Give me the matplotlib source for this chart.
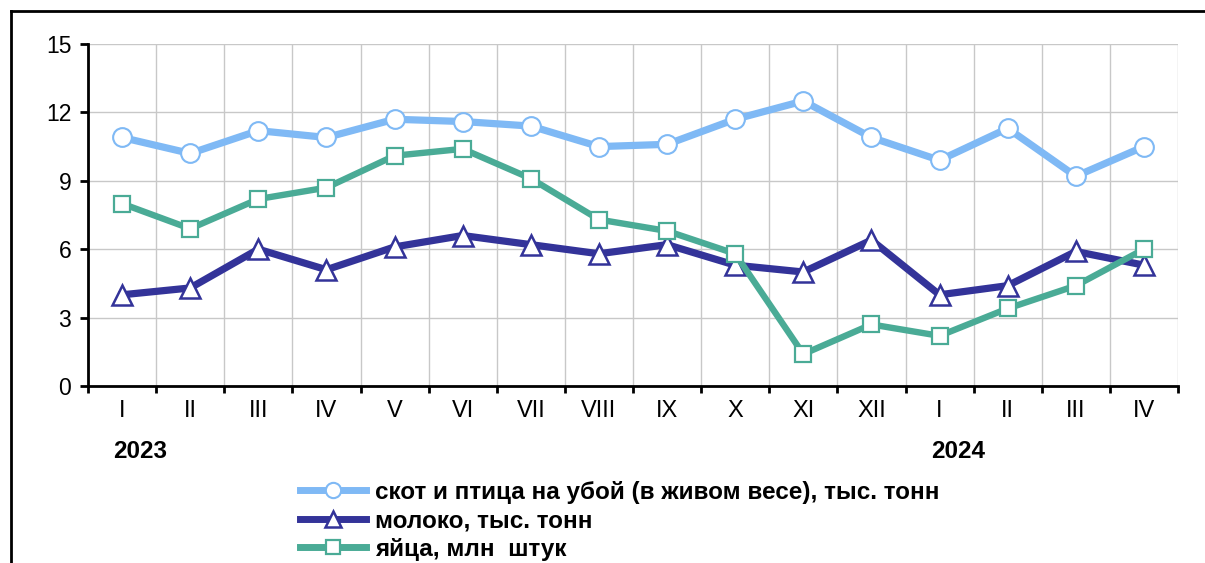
import numpy as np
import matplotlib.pyplot as plt
from matplotlib.lines import Line2D
from matplotlib.ticker import FixedLocator, NullFormatter, FixedFormatter
import matplotlib.transforms as mtransforms

plt.rcParams['font.family'] = ['Liberation Sans', 'DejaVu Sans']

# --- data ---
months = ["I", "II", "III", "IV", "V", "VI", "VII", "VIII", "IX", "X", "XI", "XII",
          "I", "II", "III", "IV"]
years = ["2023", "2024"]
year_start = [0, 12]

meat = [10.9, 10.2, 11.2, 10.9, 11.7, 11.6, 11.4, 10.5, 10.6, 11.7, 12.5, 10.9,
        9.9, 11.3, 9.2, 10.5]
milk = [4.0, 4.3, 6.0, 5.1, 6.1, 6.6, 6.2, 5.8, 6.2, 5.3, 5.0, 6.4,
        4.0, 4.4, 5.9, 5.3]
eggs = [8.0, 6.9, 8.2, 8.7, 10.1, 10.4, 9.1, 7.3, 6.8, 5.8, 1.4, 2.7,
        2.2, 3.4, 4.4, 6.0]

labels = ["скот и птица на убой (в живом весе), тыс. тонн",
          "молоко, тыс. тонн",
          "яйца, млн  штук"]

c_meat = "#7fb9f5"
c_milk = "#333399"
c_eggs = "#4aab96"

# --- figure ---
fig = plt.figure(figsize=(12.05, 5.63), dpi=100)
ax = fig.add_axes([88 / 1205, 1 - 386 / 563, 1090 / 1205, 342 / 563])

x = np.arange(len(months))

ax.plot(x, meat, color=c_meat, lw=5.2, marker="o", ms=13.5, mfc="white",
        mec=c_meat, mew=1.5, label=labels[0], zorder=3)
ax.plot(x, milk, color=c_milk, lw=5.2, marker="^", ms=14.5, mfc="white",
        mec=c_milk, mew=1.8, label=labels[1], zorder=3)
ax.plot(x, eggs, color=c_eggs, lw=4.6, marker="s", ms=11, mfc="white",
        mec=c_eggs, mew=1.6, label=labels[2], zorder=4)

ax.set_xlim(-0.5, len(months) - 0.5)
ax.set_ylim(0, 15)
ax.set_yticks(np.arange(0, 16, 3))

# boundaries as major ticks (grid), labels on minor ticks at centres
ax.xaxis.set_major_locator(FixedLocator(np.arange(-0.5, len(months), 1.0)))
ax.xaxis.set_major_formatter(NullFormatter())
ax.xaxis.set_minor_locator(FixedLocator(x))
ax.xaxis.set_minor_formatter(FixedFormatter(months))
ax.tick_params(axis="x", which="minor", length=0, labelsize=17, pad=10)
ax.tick_params(axis="x", which="major", length=5, width=2, direction="out")
ax.tick_params(axis="y", length=6, width=2, labelsize=16.5, pad=6)

ax.grid(True, which="major", color="#c8c8c8", lw=1)
ax.set_axisbelow(True)
for s in ["top", "right"]:
    ax.spines[s].set_visible(False)
for s in ["left", "bottom"]:
    ax.spines[s].set_linewidth(2)

trans = mtransforms.blended_transform_factory(ax.transData, fig.transFigure)
for yr, st in zip(years, year_start):
    ax.text(st + 0.27, 1 - 452 / 563, yr, transform=trans, ha="center",
            va="center", fontsize=17.5, fontweight="bold")

# outer frame (top and left)
fig.add_artist(Line2D([11 / 1205, 1], [1 - 11 / 563, 1 - 11 / 563],
                      transform=fig.transFigure, color="black", lw=2))
fig.add_artist(Line2D([11 / 1205, 11 / 1205], [0, 1 - 11 / 563],
                      transform=fig.transFigure, color="black", lw=2))

handles = [
    Line2D([], [], color=c_meat, lw=5, marker="o", ms=11, mfc="white", mec=c_meat, mew=1.5),
    Line2D([], [], color=c_milk, lw=5, marker="^", ms=11, mfc="white", mec=c_milk, mew=1.8),
    Line2D([], [], color=c_eggs, lw=5, marker="s", ms=10, mfc="white", mec=c_eggs, mew=1.6),
]
fig.legend(handles, labels, loc="upper left",
           bbox_to_anchor=(300 / 1205, 1 - 481 / 563), frameon=False,
           prop={"size": 17.5, "weight": "bold"}, handlelength=2.7,
           handletextpad=0.4, labelspacing=0.22, borderaxespad=0,
           borderpad=0)

fig.savefig("out.png", dpi=100)
